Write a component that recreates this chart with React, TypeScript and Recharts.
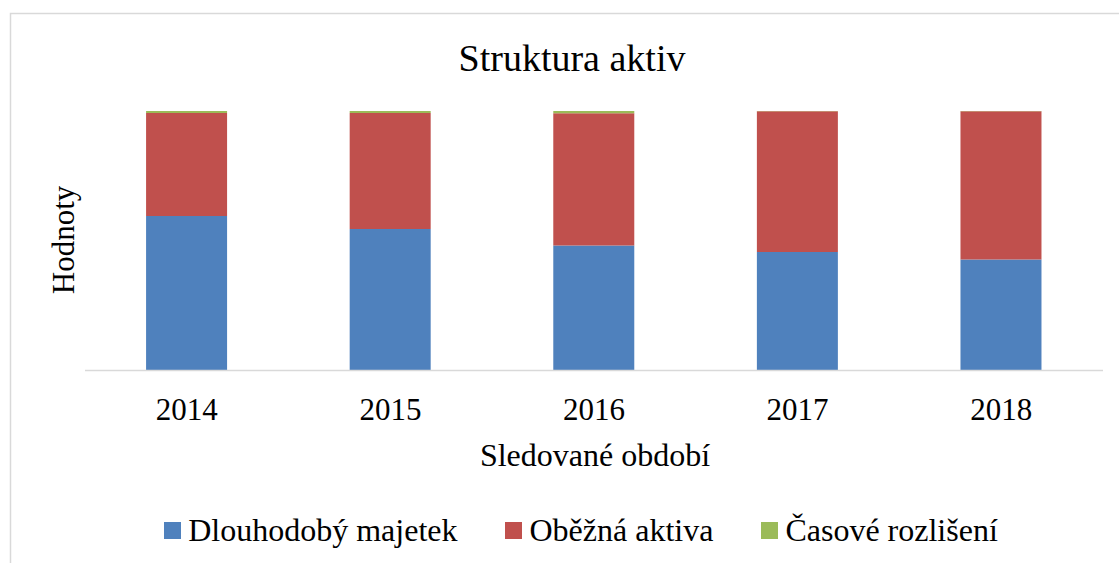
import { BarChart, Bar, XAxis, YAxis } from "recharts";

const years = ["2014", "2015", "2016", "2017", "2018"];
const dlouhodobyMajetek = [59.5, 54.5, 48.2, 45.7, 42.8];
const obeznaAktiva = [39.7, 44.7, 50.9, 54.2, 57.15];
const casoveRozliseni = [0.8, 0.8, 0.9, 0.1, 0.05];

const seriesNames = ["Dlouhodobý majetek", "Oběžná aktiva", "Časové rozlišení"];
const seriesColors = ["#4F81BD", "#C0504D", "#9BBB59"];

const FONT = "'Liberation Serif', 'Times New Roman', serif";

const data = years.map((year, i) => ({
  year,
  dm: dlouhodobyMajetek[i],
  oa: obeznaAktiva[i],
  cr: casoveRozliseni[i],
}));

const YearTick = ({ x, y, payload }: { x: number; y: number; payload: { value: string } }) => (
  <text x={x} y={y + 41} textAnchor="middle" fontSize={31} fontFamily={FONT} fill="#000">
    {payload.value}
  </text>
);

export default function App() {
  return (
    <div style={{ position: "absolute", left: 0, top: 0, width: 1119, height: 563, background: "#fff" }}>
      <BarChart
        width={1119}
        height={563}
        data={data}
        stackOffset="expand"
        barCategoryGap="30%"
        margin={{ top: 111, right: 16, bottom: 132.5, left: 85 }}
      >
        <XAxis
          dataKey="year"
          height={60}
          tickLine={false}
          axisLine={{ stroke: "#d9d9d9", strokeWidth: 1.5 }}
          tick={YearTick}
          interval={0}
        />
        <YAxis hide domain={[0, 1]} />
        <Bar dataKey="dm" stackId="a" fill={seriesColors[0]} isAnimationActive={false} />
        <Bar dataKey="oa" stackId="a" fill={seriesColors[1]} isAnimationActive={false} />
        <Bar dataKey="cr" stackId="a" fill={seriesColors[2]} isAnimationActive={false} />
      </BarChart>

      {/* frame, title and axis titles */}
      <svg width={1119} height={563} style={{ position: "absolute", left: 0, top: 0, pointerEvents: "none" }}>
        <path d="M10.5,563 V13.5 H1119" fill="none" stroke="#d9d9d9" strokeWidth={1.5} />
        <text x={572} y={71} textAnchor="middle" fontSize={38} fontFamily={FONT} fill="#000">
          Struktura aktiv
        </text>
        <text x={595} y={466} textAnchor="middle" fontSize={32} fontFamily={FONT} fill="#000">
          Sledované období
        </text>
        <text
          x={74}
          y={240}
          textAnchor="middle"
          fontSize={31}
          fontFamily={FONT}
          fill="#000"
          transform="rotate(-90, 74, 240)"
        >
          Hodnoty
        </text>
      </svg>

      {/* legend */}
      <div
        style={{
          position: "absolute",
          left: 0,
          top: 511,
          width: 1162,
          display: "flex",
          justifyContent: "center",
          gap: 48,
          fontFamily: FONT,
          fontSize: 32,
          lineHeight: "38px",
          color: "#000",
        }}
      >
        {seriesNames.map((name, i) => (
          <div key={name} style={{ display: "flex", alignItems: "center" }}>
            <span style={{ width: 17, height: 17, background: seriesColors[i], marginRight: 7, display: "inline-block" }} />
            <span>{name}</span>
          </div>
        ))}
      </div>
    </div>
  );
}
